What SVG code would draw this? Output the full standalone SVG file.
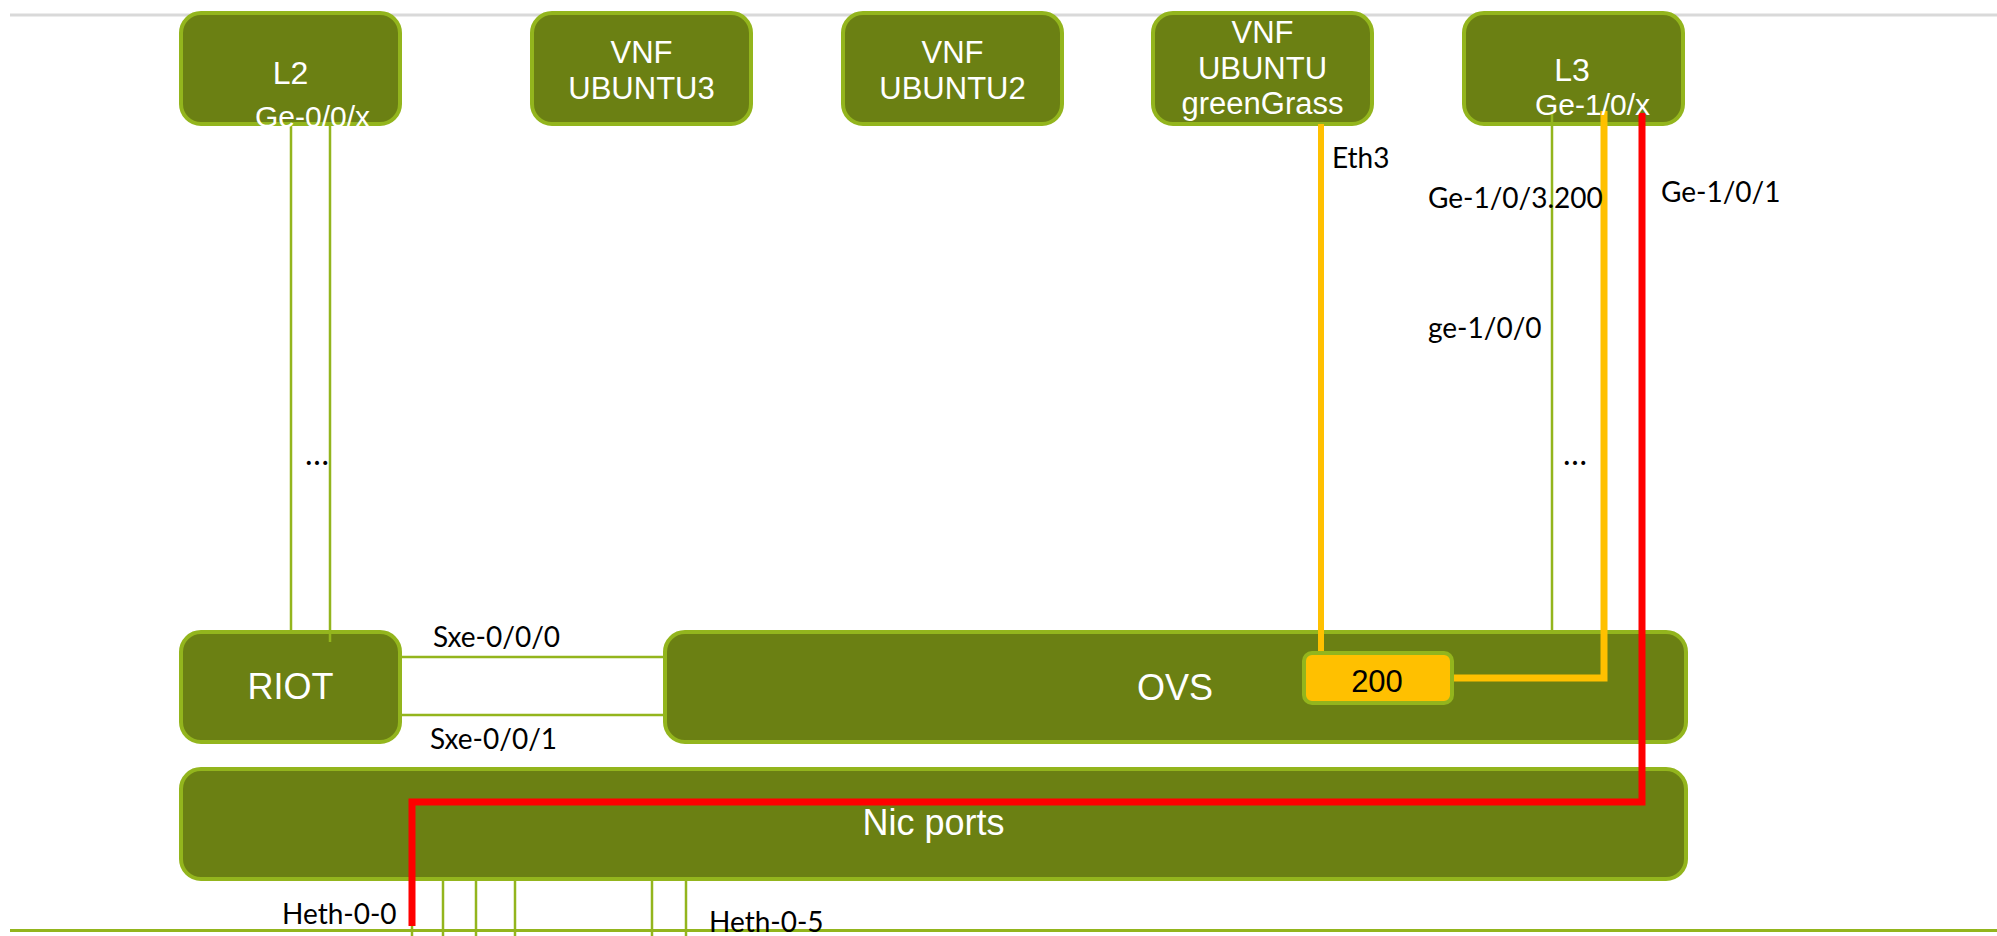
<svg xmlns="http://www.w3.org/2000/svg" width="1997" height="936" viewBox="0 0 1997 936">
  <style>
    .box { fill: #6b8013; stroke: #93b51d; stroke-width: 4; }
    .tag { fill: #ffc000; stroke: #93b51d; stroke-width: 4; }
    .name { font-family: "Liberation Sans", Arial, sans-serif; font-size: 31px; fill: #ffffff; text-anchor: middle; }
    .title { font-size: 32px; }
    .port { font-size: 30px; }
    .big { font-size: 36px; }
    .num { font-family: "Liberation Sans", Arial, sans-serif; font-size: 31px; fill: #000000; text-anchor: middle; }
    .lbl { font-family: Lato, "Open Sans", sans-serif; font-size: 28px; fill: #000000; }
    .dots { font-size: 32px; }
    .thin { fill: none; stroke: #93b51d; stroke-width: 2.5; }
    .vlan { fill: none; stroke: #ffc000; stroke-width: 7; stroke-linejoin: miter; }
    .phys { fill: none; stroke: #ff0000; stroke-width: 7; stroke-linejoin: miter; }
  </style>

  <!-- frame rules -->
  <line x1="10" y1="15" x2="1997" y2="15" stroke="#d9d9d9" stroke-width="3"/>
  <line x1="10" y1="930.5" x2="1997" y2="930.5" stroke="#93b51d" stroke-width="3"/>

  <!-- host ports below the NIC -->
  <g id="nic-port-lines">
    <line class="thin" x1="412" y1="850" x2="412" y2="936"/>
    <line class="thin" x1="443" y1="850" x2="443" y2="936"/>
    <line class="thin" x1="476" y1="850" x2="476" y2="936"/>
    <line class="thin" x1="515" y1="850" x2="515" y2="936"/>
    <line class="thin" x1="652" y1="850" x2="652" y2="936"/>
    <line class="thin" x1="686" y1="850" x2="686" y2="936"/>
  </g>

  <g id="node-l2">
    <rect class="box" x="181" y="13" width="219" height="111" rx="20"/>
    <text class="name title" x="290.5" y="84">L2</text>
  </g>
  <g id="node-ubuntu3">
    <rect class="box" x="532" y="13" width="219" height="111" rx="20"/>
    <text class="name" x="641.5" y="63">VNF</text>
    <text class="name" x="641.5" y="99">UBUNTU3</text>
  </g>
  <g id="node-ubuntu2">
    <rect class="box" x="843" y="13" width="219" height="111" rx="20"/>
    <text class="name" x="952.5" y="63">VNF</text>
    <text class="name" x="952.5" y="99">UBUNTU2</text>
  </g>
  <g id="node-greengrass">
    <rect class="box" x="1153" y="13" width="219" height="111" rx="20"/>
    <text class="name" x="1262.5" y="43">VNF</text>
    <text class="name" x="1262.5" y="79">UBUNTU</text>
    <text class="name" x="1262.5" y="114">greenGrass</text>
  </g>
  <g id="node-l3">
    <rect class="box" x="1464" y="13" width="219" height="111" rx="20"/>
    <text class="name title" x="1572" y="81">L3</text>
  </g>
  <g id="node-riot">
    <rect class="box" x="181" y="632" width="219" height="110" rx="20"/>
    <text class="name big" x="290.5" y="699">RIOT</text>
  </g>
  <g id="node-ovs">
    <rect class="box" x="665" y="632" width="1021" height="110" rx="20"/>
    <text class="name big" x="1175" y="700">OVS</text>
  </g>
  <g id="node-nic">
    <rect class="box" x="181" y="769" width="1505" height="110" rx="20"/>
    <text class="name big" x="933.5" y="835">Nic ports</text>
  </g>
  <g id="node-vlan200">
    <rect class="tag" x="1304" y="653" width="148" height="50" rx="8"/>
    <text class="num" x="1377" y="692">200</text>
  </g>

  <g id="connectors">
    <line class="thin" x1="291" y1="126" x2="291" y2="630"/>
    <line class="thin" x1="330" y1="122" x2="330" y2="642"/>
    <line class="thin" x1="402" y1="657" x2="663" y2="657"/>
    <line class="thin" x1="402" y1="715" x2="663" y2="715"/>
    <line class="thin" x1="1552" y1="112" x2="1552" y2="631"/>
    <line x1="1321" y1="124" x2="1321" y2="651" stroke="#ffc000" stroke-width="6"/>
    <path class="vlan" d="M1454 678 H1604 V111"/>
    <path class="phys" d="M1642 113 V802 H412 V926"/>
  </g>

  <!-- interface names drawn over the node edges -->
  <text class="name port" x="312.5" y="127">Ge-0/0/x</text>
  <text class="name port" x="1592.5" y="115">Ge-1/0/x</text>

  <g id="labels">
    <text class="lbl" x="1332" y="168">Eth3</text>
    <text class="lbl" x="1428" y="208">Ge-1/0/3.200</text>
    <text class="lbl" x="1661" y="202">Ge-1/0/1</text>
    <text class="lbl" x="1428" y="338">ge-1/0/0</text>
    <text class="lbl dots" x="305" y="465">…</text>
    <text class="lbl dots" x="1563" y="465">…</text>
    <text class="lbl" x="433" y="647">Sxe-0/0/0</text>
    <text class="lbl" x="430" y="749">Sxe-0/0/1</text>
    <text class="lbl" x="282" y="924">Heth-0-0</text>
    <text class="lbl" x="709" y="932">Heth-0-5</text>
  </g>
</svg>
